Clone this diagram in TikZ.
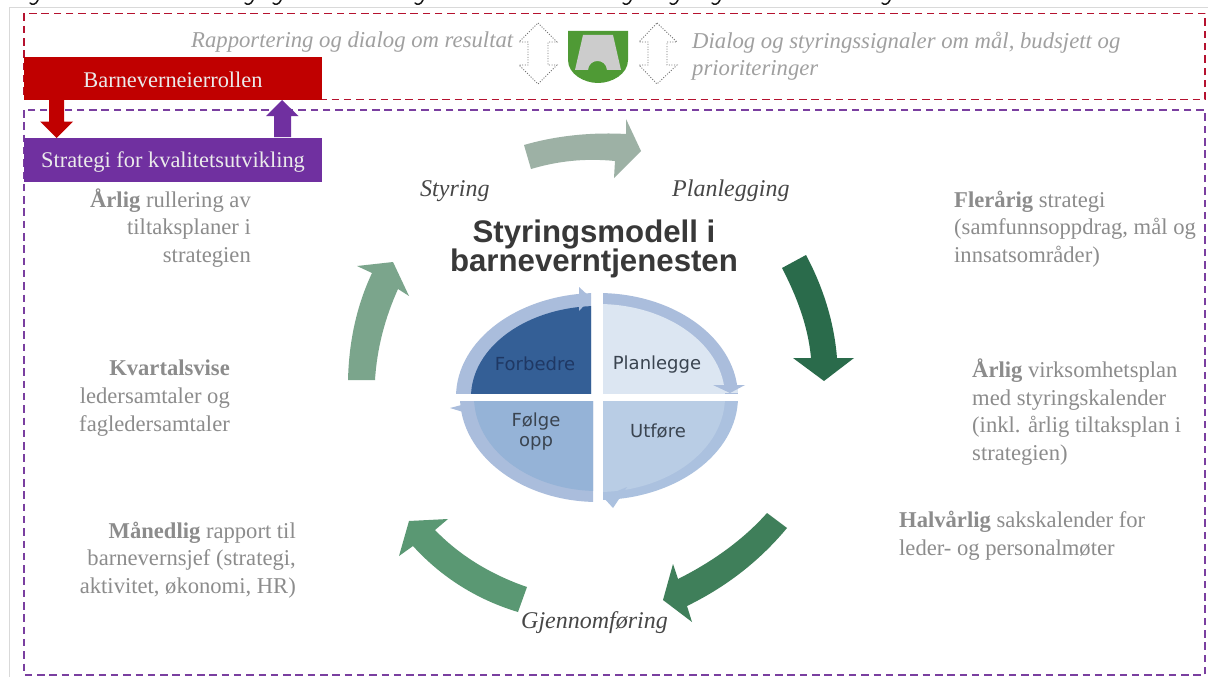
\documentclass[tikz,border=0pt]{standalone}
\usepackage{fontspec}
\setmainfont{Liberation Serif}
\newfontfamily\titlefont{Liberation Sans}
\newfontfamily\wheelfont{DejaVu Sans}
\definecolor{rdash}{HTML}{B5122F}
\definecolor{pdash}{HTML}{7A3FA0}
\definecolor{redbox}{HTML}{C00000}
\definecolor{purplebox}{HTML}{7030A0}
\definecolor{greytext}{HTML}{A0A0A0}
\definecolor{sidetext}{HTML}{8C8C8C}
\definecolor{ringblue}{HTML}{AABDDC}
\definecolor{shieldgreen}{HTML}{4F9A35}
\definecolor{cyclea}{HTML}{9DB1A5}
\definecolor{cycleb}{HTML}{2A6B4B}
\definecolor{cyclec}{HTML}{3F7F5A}
\definecolor{cycled}{HTML}{5A9873}
\definecolor{cyclee}{HTML}{7BA58C}
\definecolor{quaddark}{HTML}{345F96}
\definecolor{quadlight}{HTML}{DCE6F2}
\definecolor{quadring}{HTML}{ABC1DF}
\definecolor{quadmid}{HTML}{B9CDE5}
\definecolor{quadfolge}{HTML}{95B3D7}
\definecolor{quadtext}{HTML}{1F3864}
\definecolor{wheeltext}{HTML}{3A4450}
\tikzset{
  x=1pt,y=-1pt,
  frame/.style={line width=1.9pt,dash pattern=on 7.5pt off 4.8pt},
  boxlabel/.style={text=white!92!black,inner sep=0pt,font=\fontsize{22.4}{25}\selectfont},
  toptext/.style={text=greytext,inner sep=0pt,anchor=west,align=left,font=\fontsize{22.7}{27}\selectfont\itshape},
  phase/.style={text=black!72,inner sep=0pt,anchor=west,font=\fontsize{24}{25}\selectfont\itshape},
  sidenote/.style={text=sidetext,inner sep=0pt,font=\fontsize{22.6}{27.6}\selectfont},
  wheel/.style={inner sep=0pt,align=center,font=\fontsize{18}{20}\selectfont\wheelfont},
  dotarrow/.style={draw=black!55,line width=0.9pt,dash pattern=on 1pt off 1.6pt},
  cutoff/.style={draw=black!90,line width=1.5pt,line cap=round},
}
\begin{document}
\begin{tikzpicture}
\useasboundingbox (0,0) rectangle (1208,677);
\fill[white] (0,0) rectangle (1208,677);
% bottoms of the line of text cut off at the top edge
\foreach \p in {30,245,273,415,623,670,712,882}{
  \draw[cutoff] (\p,3) .. controls (\p+2,5) and (\p+6,5) .. (\p+8,0);
}
% outer faint frame
\draw[black!15,line width=0.8pt] (1208,7.5) -- (9.5,7.5) -- (9.5,677);
% dashed frames
\draw[frame,rdash] (24,13.5) rectangle (1205,99.5);
\draw[frame,pdash] (24,110) rectangle (1205,675);
% top row
\node[toptext] (rapport) at (191,42) {Rapportering og dialog om resultat};
\node[toptext] (dialog) at (692,56) {Dialog og styringssignaler om mål, budsjett og\\prioriteringer};
\draw[dotarrow] (538,23) -- (557,42) -- (548,42) -- (548,65) -- (557,65) -- (538,84) -- (519,65) -- (528,65) -- (528,42) -- (519,42) -- cycle;
\draw[dotarrow] (657,23) -- (677,42) -- (667,42) -- (667,65) -- (677,65) -- (657,84) -- (639,65) -- (648,65) -- (648,42) -- (639,42) -- cycle;
% shield
\fill[shieldgreen] (568,31) -- (628,31) -- (628,60) .. controls (628,74) and (612,83) .. (598,83) .. controls (584,83) and (568,74) .. (568,60) -- cycle;
\fill[black!20] (583,35) -- (613,35) -- (621,70) -- (607,70) .. controls (606,58) and (589,58) .. (588,70) -- (575,70) -- cycle;
% boxes
\fill[redbox] (24,57) rectangle (322,99.5);
\fill[purplebox] (24,138) rectangle (322,182);
\node[boxlabel] (eier) at (173,80) {Barneverneierrollen};
\node[boxlabel] (strategi) at (173,162) {Strategi for kvalitetsutvikling};
\fill[redbox] (49,99.5) -- (64,99.5) -- (64,121.5) -- (73,121.5) -- (56.5,138) -- (40,121.5) -- (49,121.5) -- cycle;
\fill[purplebox] (274,137) -- (291,137) -- (291,116) -- (298.5,116) -- (282,100) -- (266,116) -- (274,116) -- cycle;
% cycle arrows
\fill[cyclea] (524,145) .. controls (555,136) and (590,132) .. (626,134) -- (626,119) -- (641,151) -- (614,178) -- (615,161) .. controls (585,158) and (558,161) .. (531,169) -- cycle;
\fill[cycleb] (782,268) -- (806,255) .. controls (822,285) and (834,320) .. (837,358) -- (854,358) -- (824,381) -- (793,358) -- (811,358) .. controls (808,325) and (796,295) .. (782,268) -- cycle;
\fill[cyclec] (767,513) -- (787,528) .. controls (762,558) and (730,585) .. (687,606) -- (692,622) -- (663,600) -- (673,564) -- (678,579) .. controls (712,562) and (743,540) .. (767,513) -- cycle;
\fill[cycled] (527,587) -- (518,612) .. controls (478,600) and (442,578) .. (413,546) -- (399,556) -- (409,521) -- (448,519) -- (435,530) .. controls (460,556) and (492,575) .. (527,587) -- cycle;
\fill[cyclee] (348,380) .. controls (349,340) and (357,305) .. (372,273) -- (357,266) -- (393,262) -- (409,296) -- (398,289) .. controls (385,318) and (377,348) .. (375,380) -- cycle;
% phases
\node[phase] (styring) at (420,191) {Styring};
\node[phase] (planlegging) at (672,191) {Planlegging};
\node[phase] (gjennomforing) at (521,623) {Gjennomføring};
% title
\node[inner sep=0pt,align=center,text=black!78,font=\fontsize{31.2}{27.5}\selectfont\titlefont\bfseries] (title) at (594,249) {Styringsmodell i\\[-2pt]barneverntjenesten};
% wheel
\begin{scope}
\clip (450,285) rectangle (591,393);
\fill[ringblue] (598,397) ellipse [x radius=142,y radius=104];
\fill[quaddark] (598,397) ellipse [x radius=127,y radius=91];
\end{scope}
\fill[ringblue] (579,287) -- (591,298) -- (579,311) -- cycle;
\begin{scope}
\clip (603,285) rectangle (750,393);
\fill[ringblue] (598,397) ellipse [x radius=140,y radius=104];
\fill[quadlight] (598,397) ellipse [x radius=127,y radius=93];
\fill[quadlight] (603,385) rectangle (738,393);
\end{scope}
\fill[ringblue] (713,385) -- (745,385) -- (730,393) -- cycle;
\begin{scope}
\clip (603,401) rectangle (745,505);
\fill[quadring] (598,397) ellipse [x radius=140,y radius=103];
\fill[quadmid] (598,397) ellipse [x radius=127,y radius=95];
\end{scope}
\fill[quadring] (603,497) -- (627,487) -- (613,508) -- cycle;
\begin{scope}
\clip (450,401) rectangle (593,505);
\fill[ringblue] (598,397) ellipse [x radius=138,y radius=105];
\fill[quadfolge] (598,397) ellipse [x radius=124,y radius=94];
\end{scope}
\fill[ringblue] (450,408) -- (473,402) -- (473,415) -- cycle;
\node[wheel,text=quadtext] (forbedre) at (535,364) {Forbedre};
\node[wheel,text=wheeltext] (planlegge) at (657,365) {Planlegge};
\node[wheel,text=wheeltext] (utfore) at (658,431) {Utføre};
\node[wheel,text=wheeltext] (folge) at (536,432) {Følge\\opp};
% side notes
\node[sidenote,anchor=east,align=right] (n1) at (251,228) {\textbf{Årlig} rullering av\\tiltaksplaner i\\strategien};
\node[sidenote,anchor=east,align=right] (n2) at (230,398) {\textbf{Kvartalsvise}\\ledersamtaler og\\fagledersamtaler};
\node[sidenote,anchor=east,align=right] (n3) at (296,560) {\textbf{Månedlig} rapport til\\barnevernsjef (strategi,\\aktivitet, økonomi, HR)};
\node[sidenote,anchor=west,align=left] (n4) at (954,229) {\textbf{Flerårig} strategi\\(samfunnsoppdrag, mål og\\innsatsområder)};
\node[sidenote,anchor=west,align=left] (n5) at (972,412) {\textbf{Årlig} virksomhetsplan\\med styringskalender\\(inkl. årlig tiltaksplan i\\strategien)};
\node[sidenote,anchor=west,align=left] (n6) at (899,536) {\textbf{Halvårlig} sakskalender for\\leder- og personalmøter};
\end{tikzpicture}
\end{document}
